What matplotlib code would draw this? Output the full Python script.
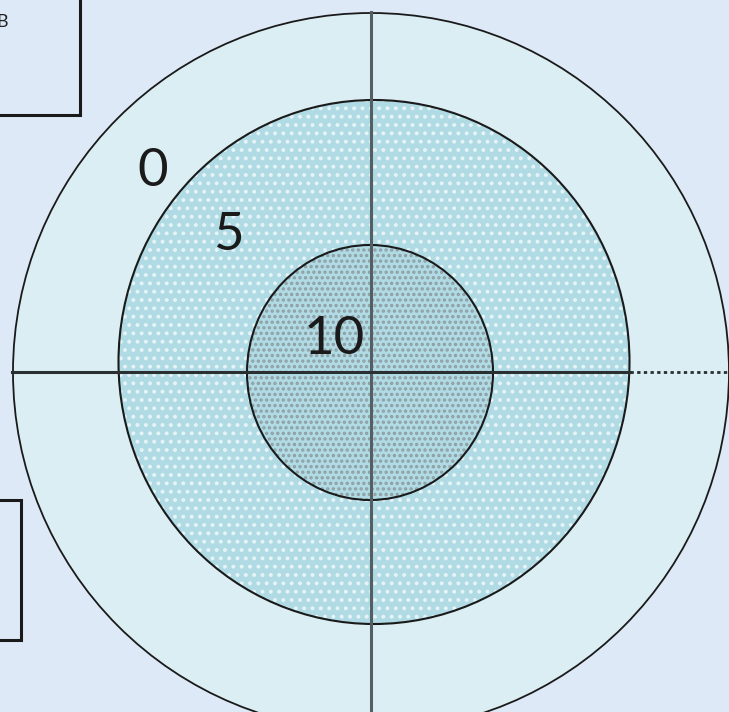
import matplotlib
matplotlib.use("Agg")
import matplotlib.pyplot as plt
from matplotlib.patches import Ellipse, Rectangle

ring_labels = ["0", "5", "10"]

W, H = 729, 712
fig = plt.figure(figsize=(W / 100, H / 100), dpi=100)
ax = fig.add_axes([0, 0, 1, 1])
ax.set_xlim(0, W)
ax.set_ylim(H, 0)
ax.axis("off")
fig.patch.set_facecolor("#dde9f6")

plt.rcParams['hatch.linewidth'] = 1.6

# outer ring
ax.add_patch(Ellipse((371, 372), 716, 718, facecolor="#dbeef4", edgecolor="#1a1a1a", lw=1.3, zorder=1))
# middle ring
ax.add_patch(Ellipse((374, 362), 511, 524, facecolor="#b0dbe5", edgecolor="none", zorder=2))
ax.add_patch(Ellipse((374, 362), 511, 524, facecolor="none", edgecolor="#e6f4f8", hatch="..", lw=0, zorder=2.1))
ax.add_patch(Ellipse((374, 362), 511, 524, facecolor="none", edgecolor="#1a1a1a", lw=1.5, zorder=2.2))
# inner
ax.add_patch(Ellipse((370, 372.5), 246, 255, facecolor="#b0dbe5", edgecolor="none", zorder=3))
ax.add_patch(Ellipse((370, 372.5), 246, 255, facecolor="none", edgecolor="#8e9ea3", hatch="...", lw=0, zorder=3.1))
ax.add_patch(Ellipse((370, 372.5), 246, 255, facecolor="none", edgecolor="#1a1a1a", lw=1.5, zorder=3.2))

# cross lines
ax.plot([371, 371], [12, 712], color="#555e62", lw=2.2, zorder=4)
ax.plot([12, 630], [372, 372], color="#2a2f31", lw=2.2, zorder=4)
ax.plot([630, 729], [372, 372], color="#2a2f31", lw=2.0, ls=(0, (1.2, 1.2)), zorder=4)

# labels
pos = [(153, 172), (228, 235), (334, 340)]
for lab, (x, y) in zip(ring_labels, pos):
    ax.text(x, y, lab, fontsize=38, family=["Lato", "DejaVu Sans"], color="#1a1a1a",
            ha="center", va="center", zorder=5)

# side boxes
ax.add_patch(Rectangle((-5, -5), 85, 120, facecolor="none", edgecolor="#1a1a1a", lw=2.2, zorder=6))
ax.text(2, 22, "B", fontsize=13, family=["Lato", "DejaVu Sans"], color="#222222", ha="center", va="center", zorder=6)
ax.add_patch(Rectangle((-5, 500), 26, 140, facecolor="none", edgecolor="#1a1a1a", lw=2.2, zorder=6))

fig.savefig("out.png", dpi=100, facecolor=fig.get_facecolor())
